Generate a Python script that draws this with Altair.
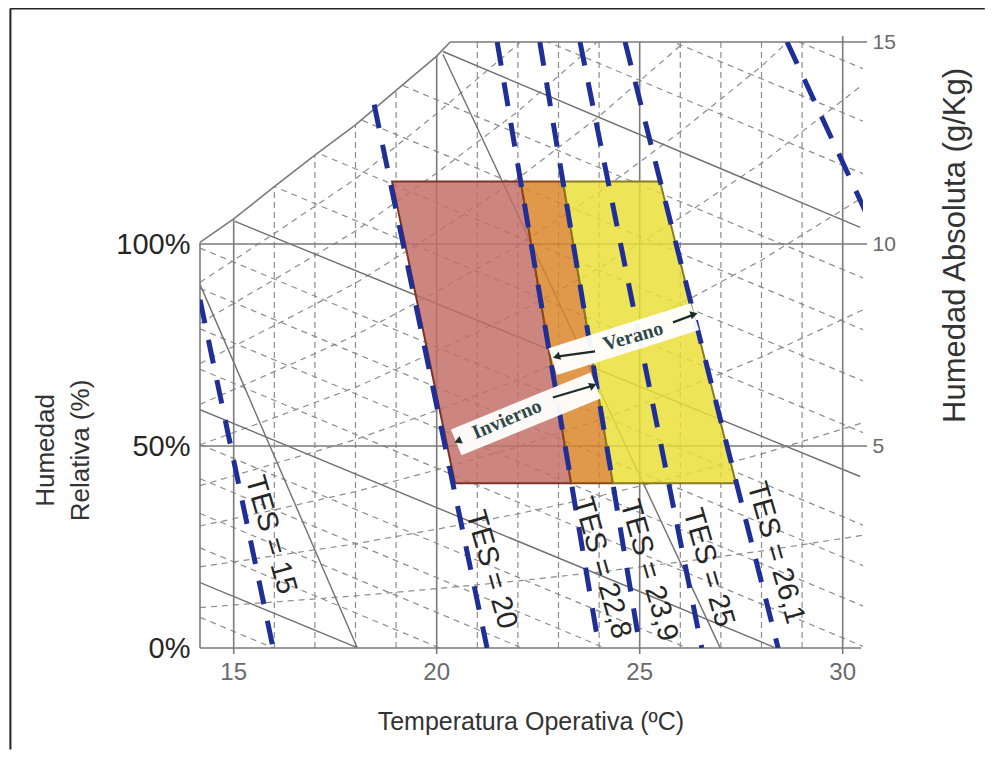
import altair as alt
import pandas as pd

# ---------------- axis ranges (frame of the chart) ----------------
T_MIN, T_MAX = 14.17, 30.5      # operative temperature (C)
H_MIN, H_MAX = 0.0, 15.0        # absolute humidity (g/kg)

# ---------------- ticks / grid ----------------
x_ticks = [15, 20, 25, 30]
x_tick_labels = ["15", "20", "25", "30"]
left_ticks = [0, 5, 10]
right_ticks = [5, 10, 15]
minor_T = [16, 17, 18, 19, 21, 22, 23, 24, 26, 27, 28, 29]
major_T = [14.17, 15, 20, 25, 30]
major_T_bottom = [0.0, -0.15, -0.15, -0.15, -0.15]
major_T_top = [10.04, 15.0, 15.0, 15.0, 15.15]
major_H = [0, 5, 10, 15]
major_H_start = [14.17, 14.17, 14.17, 20.33]
major_H_end = [30.45, 30.6, 30.6, 30.6]

# saturation curve (upper-left boundary)
sat_T = [14.17, 15.0, 16.0, 17.0, 18.0, 19.0, 20.0, 20.33]
sat_H = [10.04, 10.62, 11.42, 12.20, 12.95, 13.80, 14.65, 15.0]

# solid diagonal lines (start T, start H, end T, end H)
diag_T0 = [20.155, 15.03, 14.17, 14.17, 14.17, 20.155]
diag_H0 = [14.765, 10.56, 5.90, 1.62, 9.00, 14.69]
diag_T1 = [30.43, 30.43, 28.33, 18.04, 18.04, 26.98]
diag_H1 = [10.41, 4.245, 0.01, 0.01, 0.01, 0.01]

# dashed down-right lines (H at T_MIN and at T_MAX)
dr_H0 = [0.76, 2.48, 3.33, 4.19, 5.04, 6.90, 7.90, 8.90, 9.90,
         12.19, 13.47, 14.74, 16.02, 18.60, 19.90, 21.20, 22.50]
dr_H1 = [-6.10, -4.38, -3.53, -2.67, -1.82, 0.04, 1.04, 2.04, 3.04,
         5.33, 6.61, 7.88, 9.16, 11.74, 13.04, 14.34, 15.64]

# dashed relative-humidity curves
rh_T = [14.17, 16, 18, 20, 22, 24, 26, 28, 30.5]
rh_curves = {
    "10%": [1.00, 1.14, 1.29, 1.47, 1.66, 1.88, 2.13, 2.40, 2.79],
    "20%": [2.01, 2.28, 2.58, 2.94, 3.32, 3.76, 4.26, 4.80, 5.58],
    "30%": [3.02, 3.42, 3.87, 4.41, 4.98, 5.64, 6.39, 7.20, 8.37],
    "40%": [4.02, 4.56, 5.16, 5.88, 6.64, 7.52, 8.52, 9.60, 11.16],
    "50%": [5.03, 5.70, 6.45, 7.35, 8.30, 9.40, 10.65, 12.00, 13.95],
    "60%": [6.03, 6.84, 7.74, 8.82, 9.96, 11.28, 12.78, 14.40, 16.74],
    "70%": [7.04, 7.98, 9.03, 10.29, 11.62, 13.16, 14.91, 16.80, 19.53],
    "80%": [8.04, 9.12, 10.32, 11.76, 13.28, 15.04, 17.04, 19.20, 22.32],
    "90%": [9.05, 10.26, 11.61, 13.23, 14.94, 16.92, 19.17, 21.60, 25.11],
}

# ---------------- TES lines ----------------
tes_T0 = [14.17, 18.46, 21.49, 22.54, 23.53, 24.64, 28.63]
tes_H0 = [8.62, 13.45, 15.0, 15.0, 15.0, 15.0, 15.0]
tes_T1 = [15.97, 21.24, 24.00, 25.01, 26.53, 28.41, 30.93]
tes_H1 = [0.0, 0.0, 0.0, 0.0, 0.0, 0.0, 10.0]

tes_labels = ["TES = 15", "TES = 20", "TES = 22,8", "TES = 23,9", "TES = 25", "TES = 26,1"]
tes_label_T = [15.92, 21.35, 24.08, 25.23, 26.70, 28.36]
tes_label_H = [2.80, 1.94, 1.99, 1.92, 1.99, 2.36]

# ---------------- comfort zones ----------------
zone_H = [4.08, 11.55]
red_L, red_R = [20.45, 18.90], [23.31, 22.07]
orange_L, orange_R = [23.31, 22.07], [24.34, 23.11]
yellow_L, yellow_R = [24.34, 23.11], [27.37, 25.50]

# season labels
season_text = ["Invierno", "Verano"]
season_T = [21.73, 24.84]
season_H = [5.66, 7.71]
season_angle = [337, 344]
band_T0, band_H0 = [20.48, 22.86], [5.09, 7.09]
band_T1, band_H1 = [23.92, 26.36], [6.50, 8.20]
arrow_T0 = [22.86, 23.90, 25.82]
arrow_H0 = [6.20, 7.34, 8.06]
arrow_T1 = [23.80, 23.00, 26.30]
arrow_H1 = [6.48, 7.22, 8.24]
head_T = [20.52, 23.85, 22.95, 26.34]
head_H = [5.12, 6.50, 7.21, 8.26]
head_shape = ["triangle-left", "triangle-right", "triangle-left", "triangle-right"]
head_angle = [337, 337, 344, 344]

# axis title positions (data space)
x_title = "Temperatura Operativa (ºC)"
x_title_T, x_title_H = 22.32, -1.82
x_label_H = -0.32

# outer picture border
border_T = [9.5, 9.5]
border_H = [15.83, 15.83]
border_T2 = [33.5, 9.5]
border_H2 = [15.83, -2.51]

# ---------------- build ----------------
xs = alt.Scale(domain=[T_MIN, T_MAX], nice=False, zero=False)
ys = alt.Scale(domain=[H_MIN, H_MAX], nice=False, zero=False)


def X(f):
    return alt.X(f, type="quantitative", scale=xs, axis=None)


def Y(f):
    return alt.Y(f, type="quantitative", scale=ys, axis=None)


GRID = "#8c8c8c"

minor_df = pd.DataFrame({"T": minor_T, "H0": 0.0, "H1": 15.0})
minor = alt.Chart(minor_df).mark_rule(color=GRID, strokeWidth=1.2, strokeDash=[6, 4], clip=True).encode(
    x=X("T"), y=Y("H0"), y2="H1")

rh_rows = []
for name, vals in rh_curves.items():
    for i, (t, h) in enumerate(zip(rh_T, vals)):
        rh_rows.append({"rh": name, "i": i, "T": t, "H": h})
rh = alt.Chart(pd.DataFrame(rh_rows)).mark_line(color=GRID, strokeWidth=1.2, strokeDash=[6, 5], clip=True).encode(
    x=X("T"), y=Y("H"), detail="rh:N", order="i:Q")

dr_df = pd.DataFrame({"T0": T_MIN, "T1": T_MAX, "H0": dr_H0, "H1": dr_H1})
dr = alt.Chart(dr_df).mark_rule(color=GRID, strokeWidth=1.2, strokeDash=[6, 5], clip=True).encode(
    x=X("T0"), x2="T1", y=Y("H0"), y2="H1")

diag_df = pd.DataFrame({"T0": diag_T0, "H0": diag_H0, "T1": diag_T1, "H1": diag_H1})
diag = alt.Chart(diag_df).mark_rule(color="#707070", strokeWidth=1.4, clip=True).encode(
    x=X("T0"), x2="T1", y=Y("H0"), y2="H1")

majv_df = pd.DataFrame({"T": major_T, "H0": major_T_bottom, "H1": major_T_top})
majv = alt.Chart(majv_df).mark_rule(color="#7a7a7a", strokeWidth=1.6).encode(
    x=X("T"), y=Y("H0"), y2="H1")

majh_df = pd.DataFrame({"H": major_H, "T0": major_H_start, "T1": major_H_end})
majh = alt.Chart(majh_df).mark_rule(color="#7a7a7a", strokeWidth=1.6).encode(
    y=Y("H"), x=X("T0"), x2="T1")

mask_df = pd.DataFrame({"T": sat_T, "H": sat_H, "top": 15.3})
mask = alt.Chart(mask_df).mark_area(color="white", opacity=1).encode(
    x=X("T"), y=Y("H"), y2="top")

sat = alt.Chart(pd.DataFrame({"T": sat_T, "H": sat_H, "i": range(len(sat_T))})).mark_line(
    color="#7a7a7a", strokeWidth=1.6).encode(x=X("T"), y=Y("H"), order="i:Q")


def zone(L, R, fill, stroke):
    df = pd.DataFrame({"H": zone_H, "L": L, "R": R})
    return alt.Chart(df).mark_area(orient="horizontal", color=fill, fillOpacity=0.84,
                                   stroke=stroke, strokeWidth=2).encode(
        y=Y("H"), x=X("L"), x2="R")


z_red = zone(red_L, red_R, "#c26e66", "#7a3528")
z_orange = zone(orange_L, orange_R, "#da8628", "#8a4a14")
z_yellow = zone(yellow_L, yellow_R, "#ebdf38", "#8a7a20")

tes_df = pd.DataFrame({"T0": tes_T0, "H0": tes_H0, "T1": tes_T1, "H1": tes_H1})
tes = alt.Chart(tes_df).mark_rule(color="#1f2f96", strokeWidth=5, strokeDash=[24, 17], clip=True).encode(
    x=X("T0"), x2="T1", y=Y("H0"), y2="H1")

band_df = pd.DataFrame({"T0": band_T0, "H0": band_H0, "T1": band_T1, "H1": band_H1})
bands = alt.Chart(band_df).mark_rule(color="white", strokeWidth=28, opacity=0.95).encode(
    x=X("T0"), x2="T1", y=Y("H0"), y2="H1")

arr_df = pd.DataFrame({"T0": arrow_T0, "H0": arrow_H0, "T1": arrow_T1, "H1": arrow_H1})
arrows = alt.Chart(arr_df).mark_rule(color="#1d2b2b", strokeWidth=2.2).encode(
    x=X("T0"), x2="T1", y=Y("H0"), y2="H1")

head_layers = []
for t, h, s, a in zip(head_T, head_H, head_shape, head_angle):
    head_layers.append(
        alt.Chart(pd.DataFrame({"T": [t], "H": [h]})).mark_point(
            shape=s, filled=True, size=70, color="#1d2b2b", opacity=1, angle=a).encode(
            x=X("T"), y=Y("H")))

season_layers = []
for txt, t, h, a in zip(season_text, season_T, season_H, season_angle):
    season_layers.append(
        alt.Chart(pd.DataFrame({"T": [t], "H": [h], "txt": [txt]})).mark_text(
            font="Liberation Serif", fontWeight="bold", fontSize=20, color="#2e4848",
            angle=a, align="center", baseline="middle").encode(
            x=X("T"), y=Y("H"), text="txt:N"))

lab_df = pd.DataFrame({"T": tes_label_T, "H": tes_label_H, "txt": tes_labels})
tes_lab = alt.Chart(lab_df).mark_text(font="Liberation Sans", fontSize=29, color="#262626",
                                      angle=74, align="center", baseline="middle").encode(
    x=X("T"), y=Y("H"), text="txt:N")

bord_df = pd.DataFrame({"T0": border_T, "H0": border_H, "T1": border_T2, "H1": border_H2})
border = alt.Chart(bord_df).mark_rule(color="#222222", strokeWidth=2).encode(
    x=X("T0"), x2="T1", y=Y("H0"), y2="H1")

# ---------------- bottom axis (labels + title as text through the scales) ----------------
xlab_df = pd.DataFrame({"T": x_ticks, "H": x_label_H, "txt": x_tick_labels})
x_labels = alt.Chart(xlab_df).mark_text(font="Liberation Sans", fontSize=24, color="#6a6a6a",
                                        align="center", baseline="top").encode(
    x=X("T"), y=Y("H"), text="txt:N")

xt_df = pd.DataFrame({"T": [x_title_T], "H": [x_title_H], "txt": [x_title]})
x_title_mark = alt.Chart(xt_df).mark_text(font="Liberation Sans", fontSize=25, color="#333333",
                                          align="center", baseline="middle").encode(
    x=X("T"), y=Y("H"), text="txt:N")

# ---------------- y axes (own invisible layers) ----------------
left_axis = alt.Chart(pd.DataFrame({"H": left_ticks})).mark_point(opacity=0).encode(
    y=alt.Y("H", type="quantitative", scale=ys,
            axis=alt.Axis(orient="left", values=left_ticks, labelExpr="datum.value * 10 + '%'",
                          domain=False, grid=False, ticks=False, labelPadding=10,
                          labelFontSize=29, labelColor="#262626",
                          title=["Humedad", "Relativa (%)"], titleFontSize=26,
                          titleFontWeight="normal", titleColor="#333333",
                          titleAngle=270, titleX=-155, titleY=408, titleBaseline="middle",
                          titleAlign="center", titleLineHeight=35)),
    x=alt.X("H", type="quantitative", scale=xs, axis=None))

right_axis = alt.Chart(pd.DataFrame({"H": right_ticks})).mark_point(opacity=0).encode(
    y=alt.Y("H", type="quantitative", scale=ys,
            axis=alt.Axis(orient="right", values=right_ticks, format="d", domain=False, grid=False,
                          ticks=False, labelPadding=9, labelFontSize=21, labelColor="#6a6a6a",
                          title="Humedad Absoluta (g/Kg)", titleFontSize=31,
                          titleFontWeight="normal", titleColor="#333333",
                          titleAngle=270, titleX=92, titleY=203, titleBaseline="middle",
                          titleAlign="center")),
    x=alt.X("H", type="quantitative", scale=xs, axis=None))

chart = alt.layer(
    minor, rh, dr, diag, majv, majh, mask, sat,
    z_red, z_orange, z_yellow, tes, bands, arrows, *head_layers, *season_layers,
    tes_lab, border, x_labels, x_title_mark, left_axis, right_axis
).resolve_axis(y="independent").properties(
    width=663, height=606,
    autosize=alt.AutoSizeParams(type="none"),
    padding={"left": 192, "top": 34, "right": 122, "bottom": 102},
).configure_view(strokeWidth=0).configure_axis(
    labelFont="Liberation Sans", titleFont="Liberation Sans")

chart.save("out.html", embed_options={"renderer": "svg", "actions": False})
